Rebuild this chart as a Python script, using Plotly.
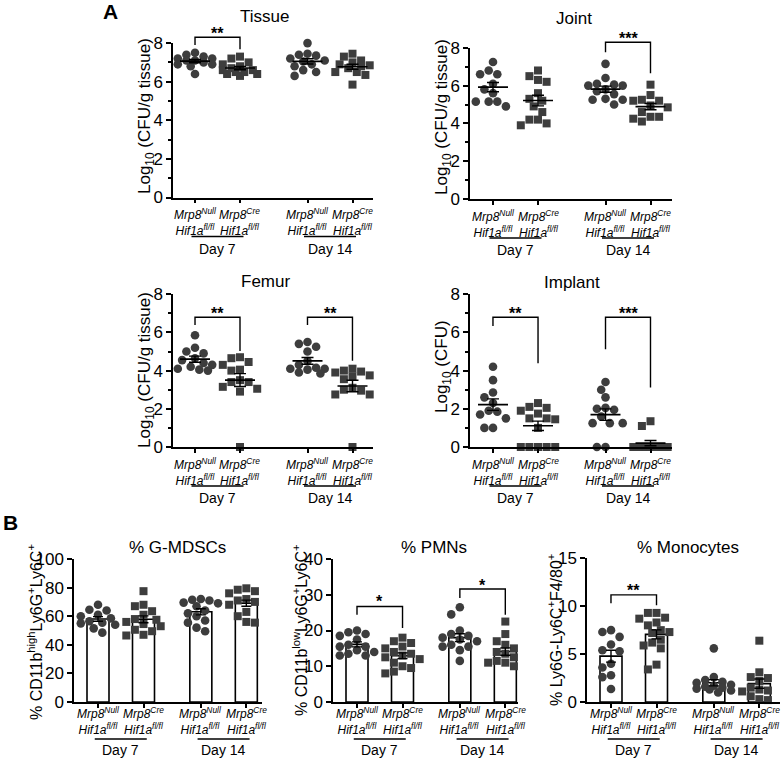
import math
import numpy as np
import plotly.graph_objects as go

# ---------------- data ----------------
tissue_null_d7 = [7.5, 7.4, 7.3, 7.2, 7.2, 7.1, 7.1, 7.0, 6.9, 6.9, 6.8, 6.4]
tissue_cre_d7 = [7.3, 7.2, 7.0, 6.9, 6.8, 6.7, 6.6, 6.6, 6.5, 6.5, 6.4, 6.4, 6.3]
tissue_null_d14 = [8.0, 7.45, 7.4, 7.35, 7.2, 7.1, 7.05, 6.9, 6.8, 6.6, 6.5, 6.3]
tissue_cre_d14 = [7.45, 7.3, 7.1, 7.0, 6.9, 6.85, 6.8, 6.7, 6.5, 6.5, 6.35, 5.85]

joint_null_d7 = [7.25, 6.8, 6.6, 6.6, 6.1, 5.8, 5.6, 5.15, 5.15, 5.15, 4.9]
joint_cre_d7 = [6.8, 6.5, 6.3, 6.2, 5.6, 5.3, 5.2, 4.9, 4.6, 4.2, 4.2, 4.0, 3.9]
joint_null_d14 = [7.15, 6.4, 6.1, 6.05, 6.0, 6.0, 5.8, 5.7, 5.55, 5.3, 5.25, 5.25, 5.0]
joint_cre_d14 = [6.05, 5.5, 5.25, 5.2, 5.2, 4.95, 4.85, 4.6, 4.35, 4.35, 4.25, 4.1]

femur_null_d7 = [5.85, 5.2, 5.0, 4.9, 4.65, 4.55, 4.4, 4.3, 4.2, 4.1, 4.05, 4.0]
femur_cre_d7 = [4.7, 4.65, 4.45, 4.3, 4.05, 4.0, 3.5, 3.4, 3.4, 3.15, 3.05, 2.9, 0.0]
femur_null_d14 = [5.5, 5.4, 5.25, 5.0, 4.5, 4.3, 4.15, 4.1, 4.1, 4.05, 3.9, 3.85]
femur_cre_d14 = [4.1, 4.0, 3.95, 3.9, 3.75, 3.7, 3.55, 3.1, 3.0, 2.95, 2.75, 2.75, 0.0]

implant_null_d7 = [4.2, 3.5, 2.85, 2.6, 2.3, 1.9, 1.85, 1.7, 1.5, 1.0, 1.0]
implant_cre_d7 = [2.3, 2.1, 2.05, 1.9, 1.75, 1.5, 1.5, 1.45, 1.0, 0, 0, 0, 0, 0]
implant_null_d14 = [3.4, 3.0, 2.6, 2.05, 2.0, 1.95, 1.6, 1.25, 1.25, 1.25, 0, 0]
implant_cre_d14 = [1.35, 1.1, 0, 0, 0, 0, 0, 0, 0, 0, 0, 0]

gmdsc_null_d7 = [68, 64.5, 64, 61, 60, 58.5, 56.5, 55.5, 55, 54, 51.5, 48.5]
gmdsc_cre_d7 = [77.5, 68, 67, 63.5, 61, 58, 57.5, 56, 54.5, 53, 50.5, 49.5, 47, 46.5]
gmdsc_null_d14 = [72, 71.5, 71, 69.5, 69, 67, 64, 62, 60, 57, 55.5, 52, 49.5]
gmdsc_cre_d14 = [79.5, 78.5, 77.5, 76, 74, 72, 71, 70, 68, 66, 63, 60, 56, 55.5]

pmn_null_d7 = [20, 19.5, 19, 18.5, 17.5, 16, 15.5, 15.5, 14.5, 14, 13.5, 13, 13]
pmn_cre_d7 = [18, 17, 16.5, 15.5, 15, 14, 13.5, 13, 12.5, 12, 11, 10, 9.5, 8.5, 8]
pmn_null_d14 = [26.5, 24.5, 20, 19, 18.5, 18, 17.5, 17, 16, 15.5, 15.5, 14.5, 11.5]
pmn_cre_d14 = [22.5, 19, 17, 16, 15, 14, 13.5, 12.5, 11.5, 11, 11, 10.5, 10]

mono_null_d7 = [7.5, 7.3, 6.8, 6.0, 5.4, 5.3, 4.0, 3.6, 2.8, 2.6, 1.35]
mono_cre_d7 = [9.3, 9.3, 8.8, 8.7, 8.3, 8.0, 7.5, 7.3, 7.2, 6.5, 6.2, 5.9, 5.6, 3.9, 3.4]
mono_null_d14 = [5.6, 2.6, 2.3, 2.1, 2.0, 1.8, 1.7, 1.6, 1.5, 1.4, 1.3, 1.2, 1.0]
mono_cre_d14 = [6.4, 3.1, 2.6, 2.5, 2.2, 1.5, 1.3, 1.2, 1.1, 0.6, 0.3, 0.2]

group_labels = [
    "<i>Mrp8<sup>Null</sup></i><br><i>Hif1a<sup>fl/fl</sup></i>",
    "<i>Mrp8<sup>Cre</sup></i><br><i>Hif1a<sup>fl/fl</sup></i>",
    "<i>Mrp8<sup>Null</sup></i><br><i>Hif1a<sup>fl/fl</sup></i>",
    "<i>Mrp8<sup>Cre</sup></i><br><i>Hif1a<sup>fl/fl</sup></i>",
]
day_labels = ["Day 7", "Day 14"]
symbols = ["circle", "square", "circle", "square"]

# ---------------- layout constants ----------------
W, H = 781, 758
FONT = "Liberation Sans, Arial, Helvetica, sans-serif"
PT = "#3d3d3d"
POS_A = [1, 2, 3.5, 4.5]
POS_B = [1, 2, 3.26, 4.26]

panels = [
    dict(title="Tissue", ytitle="Log<sub>10</sub> (CFU/g tissue)", kind="scatter",
         data=[tissue_null_d7, tissue_cre_d7, tissue_null_d14, tissue_cre_d14],
         pos=POS_A, x0=173, x1=373, c0=195, ux=45, y0=197.5, ppu=19.3, ytop=8, dtick=2, minor=1,
         tx=264, ty=16.5, ytx=146, yty=116, yts=17, lab=(24.5, 39, 51),
         sig=[(0, 1, 7.9, 8.3, 7.68, 8.68, "**")]),
    dict(title="Joint", ytitle="Log<sub>10</sub> (CFU/g tissue)", kind="scatter",
         data=[joint_null_d7, joint_cre_d7, joint_null_d14, joint_cre_d14],
         pos=POS_A, x0=470, x1=672, c0=493, ux=45, y0=199, ppu=18.9, ytop=8, dtick=2, minor=1,
         tx=574, ty=19, ytx=443, yty=117, yts=17, lab=(24.5, 39, 51),
         sig=[(2, 3, 7.76, 8.29, 6.65, 8.7, "***")]),
    dict(title="Femur", ytitle="Log<sub>10</sub> (CFU/g tissue)", kind="scatter",
         data=[femur_null_d7, femur_cre_d7, femur_null_d14, femur_cre_d14],
         pos=POS_A, x0=173, x1=373, c0=195, ux=45, y0=447, ppu=19.1, ytop=8, dtick=2, minor=1,
         tx=265, ty=281, ytx=146, yty=370, yts=17, lab=(24.5, 39, 51),
         sig=[(0, 1, 6.39, 6.79, 5.03, 7.2, "**"), (2, 3, 6.39, 6.79, 4.52, 7.2, "**")]),
    dict(title="Implant", ytitle="Log<sub>10</sub> (CFU)", kind="scatter",
         data=[implant_null_d7, implant_cre_d7, implant_null_d14, implant_cre_d14],
         pos=POS_A, x0=470, x1=672, c0=493, ux=45, y0=447, ppu=19.1, ytop=8, dtick=2, minor=1,
         tx=572, ty=282, ytx=443, yty=367, yts=17, lab=(24.5, 39, 51),
         sig=[(0, 1, 6.34, 6.79, 4.38, 7.2, "**"), (2, 3, 5.11, 6.79, 3.12, 7.2, "***")]),
    dict(title="% G-MDSCs", ytitle="% CD11b<sup>high</sup>Ly6G<sup>+</sup>Ly6C<sup>+</sup>", kind="bar",
         data=[gmdsc_null_d7, gmdsc_cre_d7, gmdsc_null_d14, gmdsc_cre_d14],
         pos=POS_B, x0=74, x1=262, c0=98, ux=45.5, y0=702, ppu=1.43, ytop=100, dtick=20, minor=None,
         tx=177, ty=547, ytx=35, yty=632, yts=16, lab=(19, 37, 48), sig=[]),
    dict(title="% PMNs", ytitle="% CD11b<sup>low</sup>Ly6G<sup>+</sup>Ly6C<sup>+</sup>", kind="bar",
         data=[pmn_null_d7, pmn_cre_d7, pmn_null_d14, pmn_cre_d14],
         pos=POS_B, x0=333, x1=518, c0=357, ux=45.5, y0=702, ppu=3.575, ytop=40, dtick=10, minor=None,
         tx=434, ty=547, ytx=300, yty=630, yts=16, lab=(19, 37, 48),
         sig=[(0, 1, 24.4, 26.7, 20.7, 29.1, "*"), (2, 3, 29.1, 31.6, 24.4, 33.7, "*")]),
    dict(title="% Monocytes", ytitle="% Ly6G-Ly6C<sup>+</sup>F4/80<sup>+</sup>", kind="bar",
         data=[mono_null_d7, mono_cre_d7, mono_null_d14, mono_cre_d14],
         pos=POS_B, x0=587, x1=780, c0=611, ux=45.5, y0=702, ppu=9.58, ytop=15, dtick=5, minor=None,
         tx=688, ty=547, ytx=555, yty=630, yts=16, lab=(19, 37, 48),
         sig=[(0, 1, 10.3, 11.18, 10.1, 12.1, "**")]),
]


def swarm(vals, ppu, d=8.6, step=4.3, kmax=4):
    n = len(vals)
    order = sorted(range(n), key=lambda i: -vals[i])
    cands = [0]
    for k in range(1, kmax + 1):
        cands += [-k, k]
    placed = []
    offs = [0.0] * n
    for i in order:
        y = vals[i] * ppu
        best_x, best_d = 0.0, -1.0
        for k in cands:
            x = k * step
            md = min([math.hypot(x - px, y - py) for px, py in placed], default=1e9)
            if md >= d:
                best_x, best_d = x, md
                break
            if md > best_d:
                best_x, best_d = x, md
        offs[i] = best_x
        placed.append((best_x, y))
    return offs


def px(x):
    return x / W


def py(y):
    return 1 - y / H


fig = go.Figure()
shapes = []
annotations = []

for k, p in enumerate(panels):
    sfx = "" if k == 0 else str(k + 1)
    xid, yid = "x" + sfx, "y" + sfx
    ux, ppu = p["ux"], p["ppu"]
    xr0 = p["pos"][0] - (p["c0"] - p["x0"]) / ux
    xr1 = xr0 + (p["x1"] - p["x0"]) / ux

    def to_px(xv, yv, p=p, xr0=xr0):
        return p["x0"] + (xv - xr0) * p["ux"], p["y0"] - yv * p["ppu"]

    for g, vals in enumerate(p["data"]):
        c = p["pos"][g]
        arr = np.array(vals, dtype=float)
        mean = arr.mean()
        sem = arr.std(ddof=1) / math.sqrt(len(arr))
        if p["kind"] == "bar":
            fig.add_trace(go.Bar(x=[c], y=[mean], width=22 / ux, xaxis=xid, yaxis=yid,
                                 marker=dict(color="white", line=dict(color="black", width=1.6)),
                                 showlegend=False, hoverinfo="skip"))
        offs = swarm(vals, ppu)
        fig.add_trace(go.Scatter(
            x=[c + o / ux for o in offs], y=vals, mode="markers", xaxis=xid, yaxis=yid,
            cliponaxis=False, showlegend=False,
            marker=dict(symbol=symbols[g], size=8.6 if g % 2 == 0 else 8, color=PT, line=dict(width=0))))
        if p["kind"] == "scatter":
            fig.add_trace(go.Scatter(x=[c - 15 / ux, c + 15 / ux], y=[mean, mean], mode="lines",
                                     xaxis=xid, yaxis=yid, cliponaxis=False, showlegend=False,
                                     line=dict(color="black", width=1.6), hoverinfo="skip"))
        fig.add_trace(go.Scatter(
            x=[c], y=[mean], mode="markers", xaxis=xid, yaxis=yid, cliponaxis=False, showlegend=False,
            marker=dict(size=1, color="rgba(0,0,0,0)"), hoverinfo="skip",
            error_y=dict(type="data", array=[sem], symmetric=True, color="black", thickness=1.4,
                         width=6 if p["kind"] == "scatter" else 5)))
        cx, _ = to_px(c, 0)
        annotations.append(dict(x=px(cx), y=py(p["y0"] + p["lab"][0]), xref="paper", yref="paper",
                                text=group_labels[g], showarrow=False, xanchor="center", yanchor="middle",
                                font=dict(family=FONT, size=12, color="black")))

    ydom = [py(p["y0"]), py(p["y0"] - p["ytop"] * ppu)]
    xa = dict(domain=[px(p["x0"]), px(p["x1"])], range=[xr0, xr1], anchor=yid,
              showline=True, linecolor="black", linewidth=1.5, showgrid=False, zeroline=False,
              ticks="outside", ticklen=4, tickwidth=1.5, tickcolor="black",
              tickmode="array", tickvals=p["pos"], showticklabels=False,
              automargin=False, fixedrange=True)
    ya = dict(domain=ydom, range=[0, p["ytop"]], anchor=xid,
              showline=True, linecolor="black", linewidth=1.5, showgrid=False, zeroline=False,
              ticks="outside", ticklen=5, tickwidth=1.5, tickcolor="black",
              tickmode="linear", tick0=0, dtick=p["dtick"],
              tickfont=dict(family=FONT, size=17, color="black"), automargin=False, fixedrange=True)
    if p["minor"]:
        ya["minor"] = dict(ticks="outside", ticklen=3, tickwidth=1.5, tickcolor="black", dtick=p["minor"])
    fig.update_layout(**{"xaxis" + sfx: xa, "yaxis" + sfx: ya})

    annotations.append(dict(x=px(p["tx"]), y=py(p["ty"]), xref="paper", yref="paper", text=p["title"],
                            showarrow=False, xanchor="center", yanchor="middle",
                            font=dict(family=FONT, size=17, color="black")))
    annotations.append(dict(x=px(p["ytx"]), y=py(p["yty"]), xref="paper", yref="paper", text=p["ytitle"],
                            showarrow=False, xanchor="center", yanchor="middle", textangle=-90,
                            font=dict(family=FONT, size=p["yts"], color="black")))
    for d in range(2):
        cm = (p["pos"][2 * d] + p["pos"][2 * d + 1]) / 2
        xm, _ = to_px(cm, 0)
        ly = p["y0"] + p["lab"][1]
        shapes.append(dict(type="line", xref="paper", yref="paper", x0=px(xm - 26), x1=px(xm + 26),
                           y0=py(ly), y1=py(ly), line=dict(color="black", width=1.4)))
        annotations.append(dict(x=px(xm), y=py(p["y0"] + p["lab"][2]), xref="paper", yref="paper",
                                text=day_labels[d], showarrow=False, xanchor="center", yanchor="middle",
                                font=dict(family=FONT, size=14, color="black")))
    for (i, j, yl, yt, yr, ys, txt) in p["sig"]:
        xl, pyl = to_px(p["pos"][i], yl)
        xr, pyr = to_px(p["pos"][j], yr)
        _, pyt = to_px(0, yt)
        _, pys = to_px(0, ys)
        path = "M {:.4f},{:.4f} L {:.4f},{:.4f} L {:.4f},{:.4f} L {:.4f},{:.4f}".format(
            px(xl), py(pyl), px(xl), py(pyt), px(xr), py(pyt), px(xr), py(pyr))
        shapes.append(dict(type="path", xref="paper", yref="paper", path=path,
                           line=dict(color="black", width=1.4)))
        annotations.append(dict(x=px((xl + xr) / 2), y=py(pys), xref="paper", yref="paper",
                                text="<b>" + txt + "</b>", showarrow=False, xanchor="center",
                                yanchor="middle", yshift=-4,
                                font=dict(family=FONT, size=16, color="black")))

annotations.append(dict(x=px(110), y=py(11), xref="paper", yref="paper", text="<b>A</b>", showarrow=False,
                        xanchor="center", yanchor="middle", font=dict(family=FONT, size=21, color="black")))
annotations.append(dict(x=px(10), y=py(522), xref="paper", yref="paper", text="<b>B</b>", showarrow=False,
                        xanchor="center", yanchor="middle", font=dict(family=FONT, size=21, color="black")))

fig.update_layout(width=W, height=H, margin=dict(l=0, r=0, t=0, b=0, pad=0),
                  paper_bgcolor="white", plot_bgcolor="white", showlegend=False,
                  barmode="overlay", shapes=shapes, annotations=annotations,
                  font=dict(family=FONT, color="black"))
fig.write_html("out.html", config={"displayModeBar": False},
               post_script="document.body.style.margin='0px';document.body.style.overflow='hidden';")
